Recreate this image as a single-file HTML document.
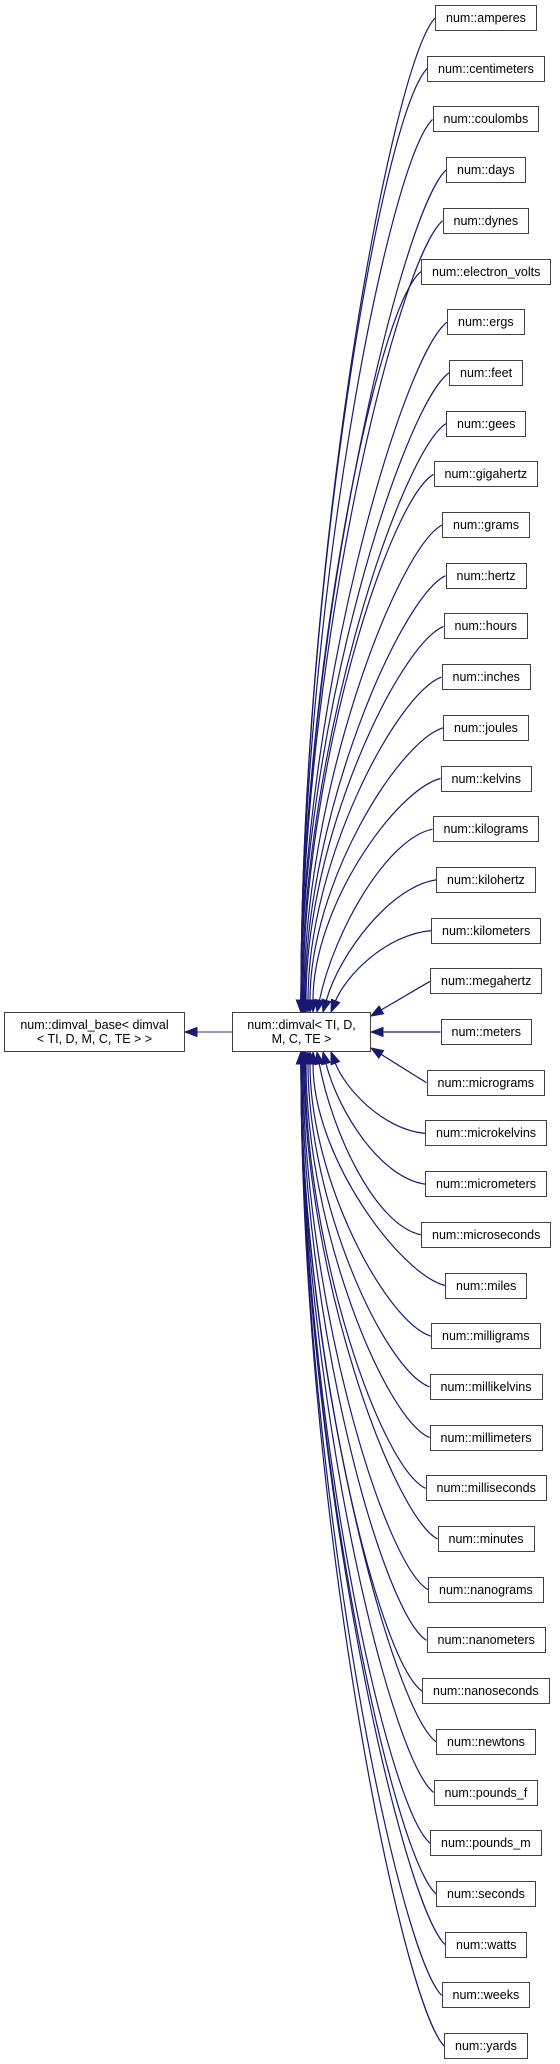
<!DOCTYPE html>
<html><head><meta charset="utf-8"><style>
html,body{margin:0;padding:0;background:#fff;width:560px;height:2064px;overflow:hidden}
.n{position:absolute;box-sizing:border-box;border:1.3px solid #404040;background:#fff;font-family:"Liberation Sans",sans-serif;font-size:12.5px;color:#000;text-align:center;white-space:nowrap;line-height:14px}
svg{position:absolute;left:0;top:0}
</style></head><body>
<svg id="s" width="560" height="2064"></svg>
<div class="n" style="left:4px;top:1012px;width:181px;height:40px;padding-top:5px">num::dimval_base&lt; dimval<br>&lt; TI, D, M, C, TE &gt; &gt;</div>
<div class="n" style="left:232px;top:1012px;width:139px;height:40px;padding-top:5px">num::dimval&lt; TI, D,<br>M, C, TE &gt;</div>
<div id="c"></div>
<script>
var names=["amperes","centimeters","coulombs","days","dynes","electron_volts","ergs","feet","gees","gigahertz","grams","hertz","hours","inches","joules","kelvins","kilograms","kilohertz","kilometers","megahertz","meters","micrograms","microkelvins","micrometers","microseconds","miles","milligrams","millikelvins","millimeters","milliseconds","minutes","nanograms","nanometers","nanoseconds","newtons","pounds_f","pounds_m","seconds","watts","weeks","yards"];
var c=document.getElementById('c'),s=document.getElementById('s'),out='';
var C='#191970';
function arrow(x,y,dx,dy){var L=Math.hypot(dx,dy);dx/=L;dy/=L;var l=12,w=4.5;
var bx=x-dx*l,by=y-dy*l;
return '<polygon points="'+x+','+y+' '+(bx-dy*w)+','+(by+dx*w)+' '+(bx+dy*w)+','+(by-dx*w)+'" fill="'+C+'" stroke="'+C+'"/>';}
// base edge
out+='<line x1="232" y1="1032" x2="197" y2="1032" stroke="#5a5aa0" stroke-width="1.3"/>'+arrow(185,1032,-1,0).replace(/#191970/g,C);
names.forEach(function(nm,i){
 var d=document.createElement('div');d.className='n';d.textContent='num::'+nm;
 d.style.top=(5+i*50.7)+'px';d.style.height='26px';d.style.padding='5px 10px 0';
 c.appendChild(d);var w=d.offsetWidth;d.style.left=(486-w/2)+'px';
 var xl=486-w/2,yc=5+i*50.7+13;
 var ex,ey,p;
 if(i==20){ex=371;ey=1032;out+='<line x1="'+xl+'" y1="'+yc+'" x2="'+(ex+12)+'" y2="'+ey+'" stroke="'+C+'" stroke-width="1.2"/>'+arrow(ex,ey,-1,0);return;}
 if(i==19||i==21){ex=371;ey=(i==19)?1016:1048;var dx=ex-xl,dy=ey-yc,L=Math.hypot(dx,dy);
  out+='<line x1="'+xl+'" y1="'+yc+'" x2="'+(ex-dx/L*12)+'" y2="'+(ey-dy/L*12)+'" stroke="'+C+'" stroke-width="1.2"/>'+arrow(ex,ey,dx,dy);return;}
 var k=i<20?19-i:i-21; // 1 nearest
 var offs=[0,30,22,16,12,9,7,5,4,3,2,1];
 ex=301+(offs[k]||0); var top=i<20; ey=top?1012:1052; var sg=top?1:-1;
 var dyT=ey-yc;
 var c1x=xl-Math.min(45,(xl-ex)*0.45),c1y=yc+dyT*0.05;
 var c2x=ex+ (k<4?(xl-ex)*0.15:0),c2y=ey-dyT*0.45;
 var adx=ex-c2x,ady=ey-c2y,L=Math.hypot(adx,ady);
 var px=ex-adx/L*12,py=ey-ady/L*12;
 out+='<path d="M'+xl+','+yc+' C'+c1x+','+c1y+' '+c2x+','+c2y+' '+px+','+py+'" fill="none" stroke="'+C+'" stroke-width="1.2"/>'+arrow(ex,ey,adx,ady);
});
s.innerHTML=out;
</script>
</body></html>
